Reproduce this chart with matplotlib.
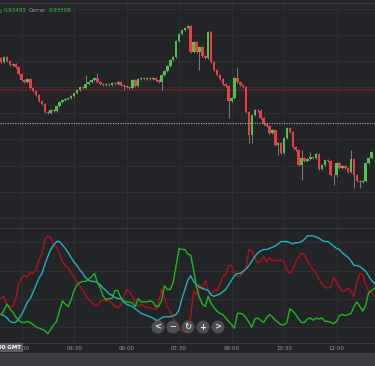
import numpy as np
import matplotlib.pyplot as plt
from matplotlib.patches import Ellipse, Rectangle

# precio de cierre de cada vela de 5 minutos (desde las 02:25 GMT)
first_open = 0.93768
closes = [
    0.93752, 0.93772, 0.93756, 0.93740, 0.93744, 0.93732, 0.93704, 0.93680, 0.93672, 0.93684,
    0.93648, 0.93636, 0.93620, 0.93596, 0.93584, 0.93552, 0.93548, 0.93560, 0.93556, 0.93576,
    0.93592, 0.93600, 0.93604, 0.93608, 0.93616, 0.93628, 0.93640, 0.93652, 0.93650, 0.93664,
    0.93672, 0.93680, 0.93688, 0.93672, 0.93664, 0.93662, 0.93664, 0.93662, 0.93668, 0.93664,
    0.93672, 0.93660, 0.93656, 0.93652, 0.93648, 0.93680, 0.93656, 0.93684, 0.93688, 0.93684,
    0.93688, 0.93684, 0.93688, 0.93680, 0.93672, 0.93700, 0.93716, 0.93736, 0.93760, 0.93772,
    0.93836, 0.93864, 0.93880, 0.93888, 0.93896, 0.93792, 0.93832, 0.93792, 0.93812, 0.93776,
    0.93768, 0.93872, 0.93752, 0.93720, 0.93700, 0.93684, 0.93664, 0.93656, 0.93596, 0.93608,
    0.93688, 0.93672, 0.93660, 0.93652, 0.93552, 0.93460, 0.93540, 0.93560, 0.93558, 0.93528,
    0.93504, 0.93496, 0.93468, 0.93480, 0.93420, 0.93428, 0.93388, 0.93448, 0.93488, 0.93472,
    0.93412, 0.93400, 0.93340, 0.93368, 0.93356, 0.93364, 0.93372, 0.93368, 0.93384, 0.93324,
    0.93340, 0.93360, 0.93356, 0.93300, 0.93298, 0.93348, 0.93328, 0.93336, 0.93328, 0.93312,
    0.93364, 0.93300, 0.93276, 0.93272, 0.93276, 0.93348, 0.93368, 0.93392,
]
# mechas largas (el resto son cortas)
wick_high = {29: 0.93700, 33: 0.93708, 81: 0.93732, 103: 0.93400, 106: 0.93392, 120: 0.93400}
wick_low = {42: 0.93640, 55: 0.93640, 68: 0.93720, 78: 0.93528, 85: 0.93428, 86: 0.93428,
            95: 0.93380, 103: 0.93280, 114: 0.93260, 121: 0.93248, 123: 0.93248}

support_level = 0.93640
last_price = 0.93508

# indicadores (0-100)
red_line = [
    39, 41, 33, 32, 32, 39, 52, 57, 59, 58, 62, 61, 65, 73, 79, 91, 94, 92, 86, 84,
    78, 71, 68, 66, 61, 58, 54, 50, 46, 42, 38, 36, 33, 33, 36, 38, 37, 37, 35, 32,
    31, 33, 40, 47, 45, 41, 35, 32, 34, 32, 31, 31, 30, 29, 36, 47, 40, 32, 27, 22,
    16, 12, 11, 9, 10, 23, 46, 42, 52, 47, 55, 46, 43, 46, 46, 52, 58, 60, 68, 68,
    61, 58, 59, 62, 66, 82, 81, 75, 70, 72, 76, 71, 75, 72, 73, 72, 73, 71, 64, 61,
    64, 71, 75, 79, 77, 72, 68, 64, 61, 56, 52, 49, 48, 49, 58, 53, 49, 45, 46, 48,
    45, 41, 53, 61, 60, 51, 46, 44, 41,
]
cyan_line = [
    25, 24, 22, 19, 18, 18, 21, 25, 30, 36, 39, 45, 51, 57, 61, 69, 76, 82, 86, 89,
    89, 86, 83, 79, 75, 71, 68, 64, 61, 57, 55, 54, 54, 53, 51, 48, 46, 43, 42, 40,
    39, 39, 36, 34, 33, 32, 30, 28, 26, 25, 24, 23, 22, 20, 20, 22, 23, 23, 23, 24,
    25, 29, 39, 47, 55, 59, 54, 51, 49, 48, 47, 46, 42, 41, 42, 43, 45, 47, 51, 55,
    59, 61, 61, 63, 65, 68, 72, 76, 79, 81, 82, 82, 83, 84, 85, 87, 89, 89, 89, 88,
    87, 88, 88, 89, 91, 94, 94, 94, 93, 92, 90, 89, 89, 87, 85, 83, 82, 79, 77, 75,
    72, 68, 68, 67, 65, 63, 59, 55, 52,
]
green_line = [
    25, 29, 34, 30, 27, 23, 20, 18, 18, 19, 18, 16, 14, 13, 12, 11, 8, 12, 16, 19,
    28, 37, 34, 32, 38, 46, 51, 53, 54, 54, 56, 58, 61, 53, 48, 41, 38, 39, 39, 46,
    46, 40, 37, 36, 36, 35, 32, 39, 36, 36, 36, 37, 36, 32, 32, 37, 50, 47, 47, 53,
    68, 83, 82, 82, 78, 77, 64, 49, 40, 34, 32, 41, 35, 31, 28, 26, 25, 22, 19, 16,
    13, 26, 26, 25, 22, 18, 14, 21, 22, 20, 18, 22, 25, 23, 20, 18, 16, 16, 18, 30,
    28, 25, 21, 18, 18, 21, 22, 20, 22, 21, 22, 19, 19, 18, 17, 19, 24, 25, 24, 25,
    26, 32, 36, 32, 28, 33, 44, 46, 48,
]

start_min = 145  # 02:25
step_min = 5
tick_min = [180, 270, 360, 450, 540, 630, 720]
tick_labels = ['03:00', '04:30', '06:00', '07:30', '09:00', '10:30', '12:00']

BG = '#232428'
GRID = '#2e2f33'
UP = '#4cc44c'
DOWN = '#ee3b45'

W, H = 375, 366
fig = plt.figure(figsize=(W / 100, H / 100), dpi=100, facecolor=BG)

ax1 = fig.add_axes([0, (H - 228) / H, 1, 225 / H], facecolor=BG)
ax2 = fig.add_axes([0, 23 / H, 1, 114 / H], facecolor=BG)

t_c = start_min + step_min * np.arange(len(closes))
closes_a = np.array(closes)
opens_a = np.concatenate([[first_open], closes_a[:-1]])
pad = 0.00005
highs = np.maximum(opens_a, closes_a) + pad
lows = np.minimum(opens_a, closes_a) - pad
for k, v in wick_high.items():
    highs[k] = v
for k, v in wick_low.items():
    lows[k] = v

up = closes_a >= opens_a
ax1.vlines(t_c, lows, highs, color='#7d7e82', lw=0.7, zorder=2)
body = np.maximum(np.abs(closes_a - opens_a), 0.00003)
ax1.bar(t_c, body, bottom=np.minimum(opens_a, closes_a), width=4.3,
        color=np.where(up, UP, DOWN), edgecolor='none', zorder=3)

ax1.axhline(support_level, color='#6b1c20', lw=1.2, zorder=1)
ax1.axhline(last_price, color='#b4b4b4', lw=0.8, ls=(0, (1, 1.2)), zorder=4)

ax1.set_xlim(143, 786)
ax1.set_ylim(0.93088, 0.93988)
ax1.set_yticks([0.93964, 0.93860, 0.93756, 0.93652, 0.93548, 0.93444, 0.93336, 0.93232, 0.93128])
ax1.set_xticks(tick_min)
ax1.grid(True, color=GRID, lw=0.8)
ax1.tick_params(length=0, labelbottom=False, labelleft=False)
for s in ax1.spines.values():
    s.set_visible(False)
ax1.spines['top'].set_visible(True)
ax1.spines['top'].set_color('#3a3b3f')
ax1.spines['bottom'].set_visible(True)
ax1.spines['bottom'].set_color('#37383c')
ax1.set_axisbelow(True)

t_l = start_min + step_min * np.arange(len(red_line))
ax2.plot(t_l, red_line, color='#ad1219', lw=1.0, zorder=3)
ax2.plot(t_l, cyan_line, color='#22b0bd', lw=1.0, zorder=4)
ax2.plot(t_l, green_line, color='#1fb81f', lw=1.0, zorder=5)
ax2.set_xlim(143, 786)
ax2.set_ylim(0, 100)
ax2.set_yticks([14, 39, 63, 89])
ax2.set_xticks(tick_min)
ax2.set_xticklabels(tick_labels)
ax2.grid(True, color=GRID, lw=0.8)
ax2.set_axisbelow(True)
ax2.tick_params(length=0, labelleft=False, labelsize=4, labelcolor='#9c9c9c', pad=1.8)
for s in ax2.spines.values():
    s.set_visible(False)
ax2.spines['bottom'].set_visible(True)
ax2.spines['bottom'].set_color('#3a3b3f')

# franja inferior
fig.add_artist(Rectangle((0, 0), 1, 13 / H, transform=fig.transFigure,
                         facecolor='#3a3b3f', edgecolor='none'))

# etiqueta de hora
fig.text(21 / W, 1 - 347.5 / H, '03:00 GMT', ha='right', va='center', fontsize=4,
         color='white', fontweight='bold',
         bbox=dict(boxstyle='square,pad=0.35', facecolor='#5c5d61', edgecolor='none'))

# leyenda OHLC
fig.text(2.5 / W, 1 - 11 / H, 'Bajo', ha='right', va='center', fontsize=4, color='#9c9c9c')
fig.text(4 / W, 1 - 11 / H, '0.93493', ha='left', va='center', fontsize=4, color='#3fbf3f')
fig.text(29 / W, 1 - 11 / H, 'Cerrar', ha='left', va='center', fontsize=4, color='#9c9c9c')
fig.text(49 / W, 1 - 11 / H, '0.93508', ha='left', va='center', fontsize=4, color='#3fbf3f')

# botones de navegacion
for cx, sym in zip([158, 173, 188, 203, 218], ['<', '−', '↻', '+', '>']):
    fig.add_artist(Ellipse((cx / W, 1 - 327 / H), 13 / W, 13 / H, transform=fig.transFigure,
                           facecolor='#55565a', edgecolor='none', alpha=0.85, zorder=10))
    fig.text(cx / W, 1 - 327 / H, sym, ha='center', va='center', fontsize=6,
             color='#e6e6e6', fontweight='bold', zorder=11)

fig.savefig('out.png', dpi=100, facecolor=BG)
